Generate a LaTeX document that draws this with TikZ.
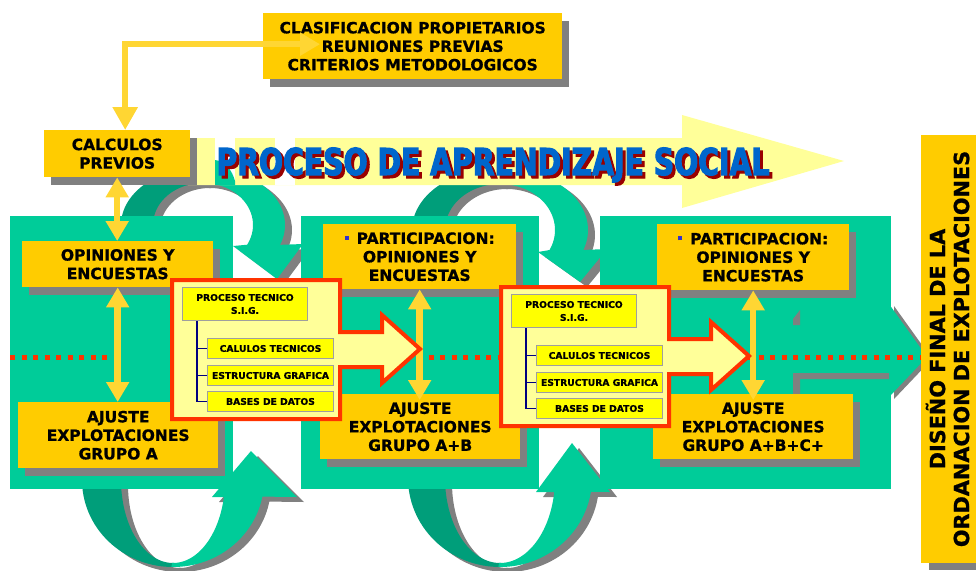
\documentclass[tikz,border=0pt]{standalone}
\usepackage{fontspec}
\setmainfont{DejaVu Sans}[BoldFeatures={FakeBold=0.9}]
\newfontfamily\titlefont{DejaVu Sans}[FakeStretch=0.765, BoldFeatures={FakeBold=3}]
\usetikzlibrary{arrows.meta,shadows}
\definecolor{boxor}{HTML}{FFCC00}
\definecolor{yarr}{HTML}{FFD633}
\definecolor{grn}{HTML}{00CC99}
\definecolor{dgrn}{HTML}{009E7A}
\definecolor{shd}{HTML}{808080}
\definecolor{ltyel}{HTML}{FFFF99}
\definecolor{bryel}{HTML}{FFFF00}
\definecolor{redor}{HTML}{FF3300}
\definecolor{tblue}{HTML}{0066CC}
\definecolor{tred}{HTML}{990000}
\definecolor{navyline}{HTML}{000080}
\definecolor{bull}{HTML}{3333CC}
\tikzset{
  obox/.style={anchor=north west, fill=boxor, inner sep=0pt, align=center,
    font=\bfseries\fontsize{15.5}{18.5}\selectfont,
    drop shadow={shadow xshift=7pt, shadow yshift=-8pt, fill=shd, opacity=1}},
  dbox/.style={fill=boxor, inner sep=0pt, minimum width=60pt, minimum height=428pt,
    font=\bfseries\fontsize{20.8}{24}\selectfont,
    drop shadow={shadow xshift=8pt, shadow yshift=-7pt, fill=shd, opacity=1}},
  titletext/.style={anchor=base, inner sep=0pt, font=\titlefont\bfseries\fontsize{37}{37}\selectfont},
  sigbox/.style={anchor=north west, fill=bryel, draw=gray!75, line width=1pt, inner sep=0pt,
    minimum width=125pt, minimum height=33pt, align=center,
    font=\bfseries\fontsize{9.2}{13}\selectfont},
  subbox/.style={anchor=north west, fill=bryel, draw=gray!75, line width=1pt, inner sep=0pt,
    minimum width=126pt, minimum height=20pt,
    font=\bfseries\fontsize{9.2}{11}\selectfont},
  callline/.style={draw=redor, line width=4pt, fill=ltyel},
  treeline/.style={draw=navyline, line width=1.2pt},
  yarrow/.style={draw=yarr, line width=6.5pt,
    {Triangle[width=22pt,length=20pt]}-{Triangle[width=22pt,length=20pt]}},
  yconn/.style={draw=yarr, line width=6.5pt,
    {Triangle[width=24pt,length=23pt]}-{Triangle[width=22pt,length=20pt]}},
  reddots/.style={draw=redor, line width=5pt, dash pattern=on 5pt off 6.5pt},
}
% band between an outer and an inner ellipse
\newcommand\bandpart[9]{%
  \fill[#1] plot[domain=#8:#9,samples=36] ({#2+#4*cos(\x)},{#3+#5*sin(\x)})
    -- plot[domain=#9:#8,samples=36] ({#2+#6*cos(\x)},{#3+#7*sin(\x)}) -- cycle;}
\newcommand\loopTone[2]{%
  \bandpart{#1}{203}{225}{82}{58}{50}{42}{160}{271}
  \fill[#2] plot[domain=269:380,samples=36] ({203+82*cos(\x)},{225+58*sin(\x)})
    -- (303,244) -- (277,279) -- (233,246)
    -- plot[domain=388:269,samples=36] ({203+50*cos(\x)},{225+42*sin(\x)}) -- cycle;}
\newcommand\loopBone[2]{%
  \bandpart{#1}{173}{480}{91}{87}{52}{83}{190}{89}
  \fill[#2] plot[domain=91:11,samples=36] ({173+91*cos(\x)},{480+87*sin(\x)})
    -- (297,497) -- (251,451) -- (212,497)
    -- plot[domain=12:91,samples=36] ({173+52*cos(\x)},{480+83*sin(\x)}) -- cycle;}
\newcommand\loopTtwo[2]{%
  \bandpart{#1}{500}{230}{88}{62}{55}{46}{165}{271}
  \fill[#2] plot[domain=269:378.8,samples=36] ({500+88*cos(\x)},{230+62*sin(\x)})
    -- (607,249) -- (580,282) -- (538,252)
    -- plot[domain=385.8:269,samples=36] ({500+55*cos(\x)},{230+46*sin(\x)}) -- cycle;}
\newcommand\loopBtwo[2]{%
  \bandpart{#1}{500}{478}{92}{89}{55}{85}{190}{89}
  \fill[#2] plot[domain=91:9,samples=36] ({500+92*cos(\x)},{478+89*sin(\x)})
    -- (610,492) -- (572,443) -- (536,492)
    -- plot[domain=9.5:91,samples=36] ({500+55*cos(\x)},{478+85*sin(\x)}) -- cycle;}
% technical-process callout
\newcommand\mkcallout[3]{%
  \begin{scope}[shift={(#2,#3)}]
    \draw[callline] (2,2) -- (170,2) -- (170,54) -- (212,54) -- (212,37) -- (250,71)
      -- (212,105) -- (212,89) -- (170,89) -- (170,141) -- (2,141) -- cycle;
    \node[sigbox] (#1t) at (12,9) {PROCESO TECNICO\\S.I.G.};
    \node[subbox] (#1a) at (37,60) {CALULOS TECNICOS};
    \node[subbox] (#1b) at (37,87) {ESTRUCTURA GRAFICA};
    \node[subbox] (#1c) at (37,113) {BASES DE DATOS};
    \draw[treeline] ([xshift=15pt]#1t.south west) |- (#1c.west);
    \draw[treeline] ([xshift=15pt]#1t.south west) |- (#1a.west);
    \draw[treeline] ([xshift=15pt]#1t.south west) |- (#1b.west);
  \end{scope}}
\begin{document}
\begin{tikzpicture}[x=1pt,y=-1pt]
\useasboundingbox (0,0) rectangle (976,570);

% circular arrows (shadows first)
\begin{scope}[shift={(7,5)}]
  \loopTone{shd}{shd}\loopBone{shd}{shd}\loopTtwo{shd}{shd}\loopBtwo{shd}{shd}
\end{scope}
\loopTone{dgrn}{grn}
\loopBone{dgrn}{grn}
\loopTtwo{dgrn}{grn}
\loopBtwo{dgrn}{grn}

% big light-yellow arrow with title
\fill[ltyel] (188,138) -- (682,138) -- (682,115) -- (844,161) -- (682,208) -- (682,185) -- (188,185) -- cycle;
\fill[white] (215,138) rectangle (235,185);
\fill[white] (275,138) rectangle (295,185);
\fill[grn] (215,185) -- (215,160) .. controls (225,161) and (232,170) .. (235,181) -- (235,185) -- cycle;
\node[titletext, text=tred] (ttlsh) at (496,178) {PROCESO DE APRENDIZAJE SOCIAL};
\node[titletext, text=tblue] (ttl) at (493,175) {PROCESO DE APRENDIZAJE SOCIAL};

% green main arrow head and panels
\fill[shd] (894,306) -- (932,359) -- (894,399) -- cycle;
\fill[grn] (889,304) -- (927,357) -- (889,397) -- cycle;
\fill[grn] (10,216) rectangle (233,489);
\fill[grn] (301,216) rectangle (539,489);
\fill[grn] (600,216) rectangle (891,489);
\fill[shd] (793,319) -- (800,310) -- (800,325) -- (793,325) -- cycle;
\fill[shd] (793,373) -- (889,373) -- (889,379) -- (800,379) -- (800,403) -- (793,395) -- cycle;

% red dotted axis
\coordinate (d1a) at (10,357);
\coordinate (d1b) at (117,357);
\coordinate (d2a) at (417,357);
\coordinate (d2b) at (499,357);
\coordinate (d3a) at (747,357);
\coordinate (d3b) at (925,357);
\draw[reddots] (d1a) -- (d1b);
\draw[reddots] (d2a) -- (d2b);
\draw[reddots] (d3a) -- (d3b);

% boxes
\node[obox, minimum width=299pt, minimum height=66pt] (top) at (263,13)
  {CLASIFICACION PROPIETARIOS\\REUNIONES PREVIAS\\CRITERIOS METODOLOGICOS};
\node[obox, minimum width=146pt, minimum height=47pt] (calc) at (44,130) {CALCULOS\\PREVIOS};
\node[obox, minimum width=191pt, minimum height=46pt] (op1) at (22,241) {OPINIONES Y\\ENCUESTAS};
\node[obox, minimum width=200pt, minimum height=66pt] (aj1) at (18,402) {AJUSTE\\EXPLOTACIONES\\GRUPO A};
\node[obox, minimum width=193pt, minimum height=65pt] (part2) at (323,224)
  {\textcolor{bull}{\rule[4pt]{4pt}{4pt}}\hspace{8pt}PARTICIPACION:\\OPINIONES Y\\ENCUESTAS};
\node[obox, minimum width=200pt, minimum height=65pt] (aj2) at (320,394) {AJUSTE\\EXPLOTACIONES\\GRUPO A+B};
\node[obox, minimum width=192pt, minimum height=66pt] (part3) at (657,224)
  {\textcolor{bull}{\rule[4pt]{4pt}{4pt}}\hspace{8pt}PARTICIPACION:\\OPINIONES Y\\ENCUESTAS};
\node[obox, minimum width=200pt, minimum height=65pt] (aj3) at (653,394) {AJUSTE\\EXPLOTACIONES\\GRUPO A+B+C+};
\node[dbox] (dis) at (951,349)
  {\rotatebox{90}{\begin{tabular}{@{}c@{}}DISEÑO FINAL DE LA\\ORDANACION DE EXPLOTACIONES\end{tabular}}};

% yellow connectors
\draw[yconn] ([xshift=8pt]calc.north) |- ([xshift=57pt,yshift=2pt]top.west);
\draw[yarrow] (calc.south) -- (calc.south |- op1.north);
\draw[yarrow] (op1.south) -- (op1.south |- aj1.north);
\draw[yarrow] (part2.south) -- ([yshift=-6pt]part2.south |- aj2.north);
\draw[yarrow] (part3.south) -- ([yshift=-6pt]part3.south |- aj3.north);

% technical process callouts
\mkcallout{ca}{170}{278}
\mkcallout{cb}{499}{285}
\end{tikzpicture}
\end{document}
